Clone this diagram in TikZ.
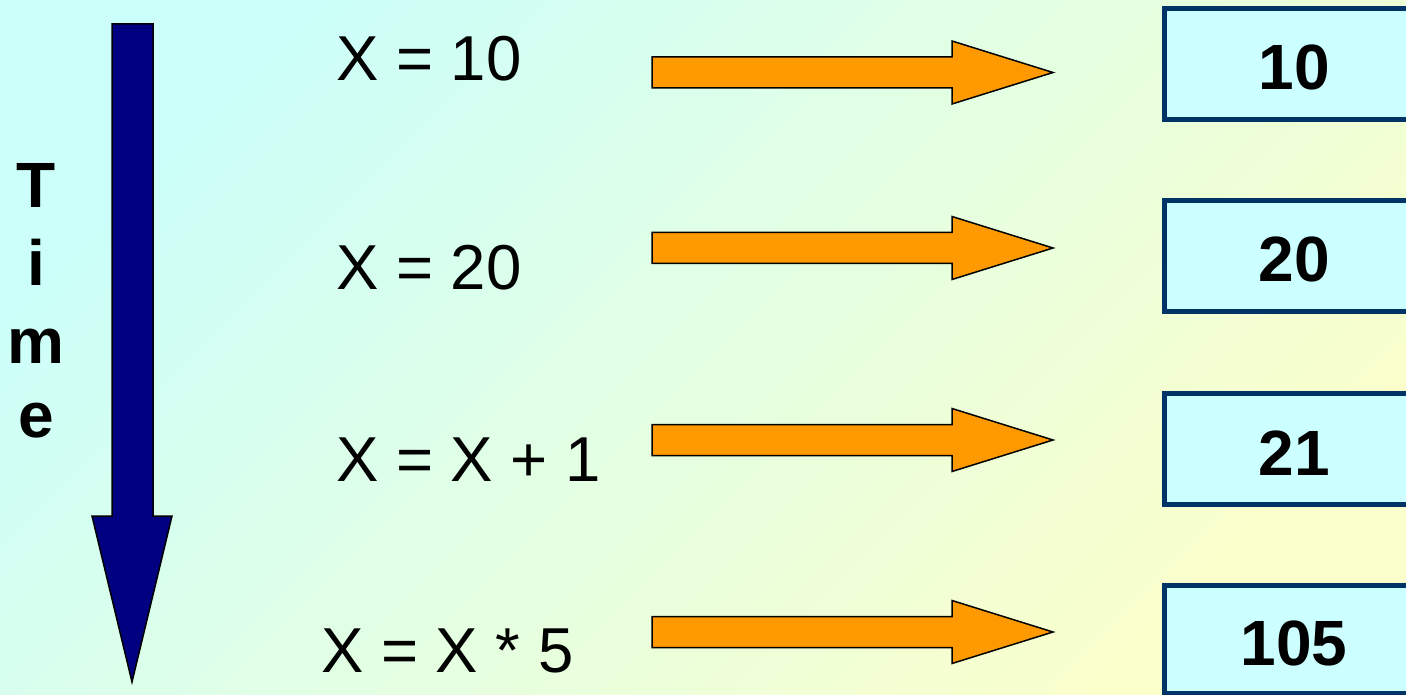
\documentclass[tikz,border=0pt]{standalone}
\usepackage{fontspec}
\setmainfont{Liberation Sans}
\definecolor{bgA}{RGB}{204,255,250}
\definecolor{bgB}{RGB}{250,255,204}
\definecolor{arrowor}{RGB}{255,153,0}
\definecolor{navyarr}{RGB}{0,0,128}
\definecolor{boxfill}{RGB}{204,255,255}
\definecolor{boxline}{RGB}{0,51,102}
\tikzset{
  orangearrow/.style={fill=arrowor,draw=black,line width=1.5pt,line join=miter},
  bluearrow/.style={fill=navyarr,draw=black,line width=1.5pt,line join=miter},
  valbox/.style={fill=boxfill,draw=boxline,line width=5pt},
  valtext/.style={font=\bfseries\fontsize{64}{64}\selectfont,anchor=base,inner sep=0pt},
  stmt/.style={font=\fontsize{63.5}{63.5}\selectfont,anchor=base west,inner sep=0pt},
  timeletter/.style={font=\bfseries\fontsize{64}{64}\selectfont,anchor=base,inner sep=0pt},
}
\begin{document}
\begin{tikzpicture}[x=1pt,y=-1pt]
\useasboundingbox (0,0) rectangle (1406,695);
\clip (0,0) rectangle (1406,695);
\shade[top color=bgA,bottom color=bgB,shading angle=45] (0,0) rectangle (1406,695);
% time arrow
\draw[bluearrow] (112,24) -- (153,24) -- (153,516) -- (172,516) -- (132,682) -- (92,516) -- (112,516) -- cycle;
% Time letters
\node[timeletter] (tT) at (36,208) {T};
\node[timeletter] (ti) at (36,285) {i};
\node[timeletter] (tm) at (36,363) {m};
\node[timeletter] (te) at (36,437) {e};
% statements
\node[stmt] (s1) at (336,81) {X = 10};
\node[stmt] (s2) at (336,289) {X = 20};
\node[stmt] (s3) at (336,481) {X = X + 1};
\node[stmt] (s4) at (321,672) {X = X * 5};
% orange arrows
\foreach \c/\n in {72.5/a1,248/a2,440/a3,632/a4}{
  \draw[orangearrow] (652,\c-15.5) -- (952,\c-15.5) -- (952,\c-31.5) -- (1053,\c) -- (952,\c+31.5) -- (952,\c+15.5) -- (652,\c+15.5) -- cycle;
}
% value boxes
\draw[valbox] (1164.5,8.5) rectangle (1420,119.5);
\draw[valbox] (1164.5,200.5) rectangle (1420,311.5);
\draw[valbox] (1164.5,393) rectangle (1420,504);
\draw[valbox] (1164.5,585) rectangle (1420,693.5);
\node[valtext] (v1) at (1294,90) {10};
\node[valtext] (v2) at (1294,282) {20};
\node[valtext] (v3) at (1294,475) {21};
\node[valtext] (v4) at (1294,665) {105};
\end{tikzpicture}
\end{document}
